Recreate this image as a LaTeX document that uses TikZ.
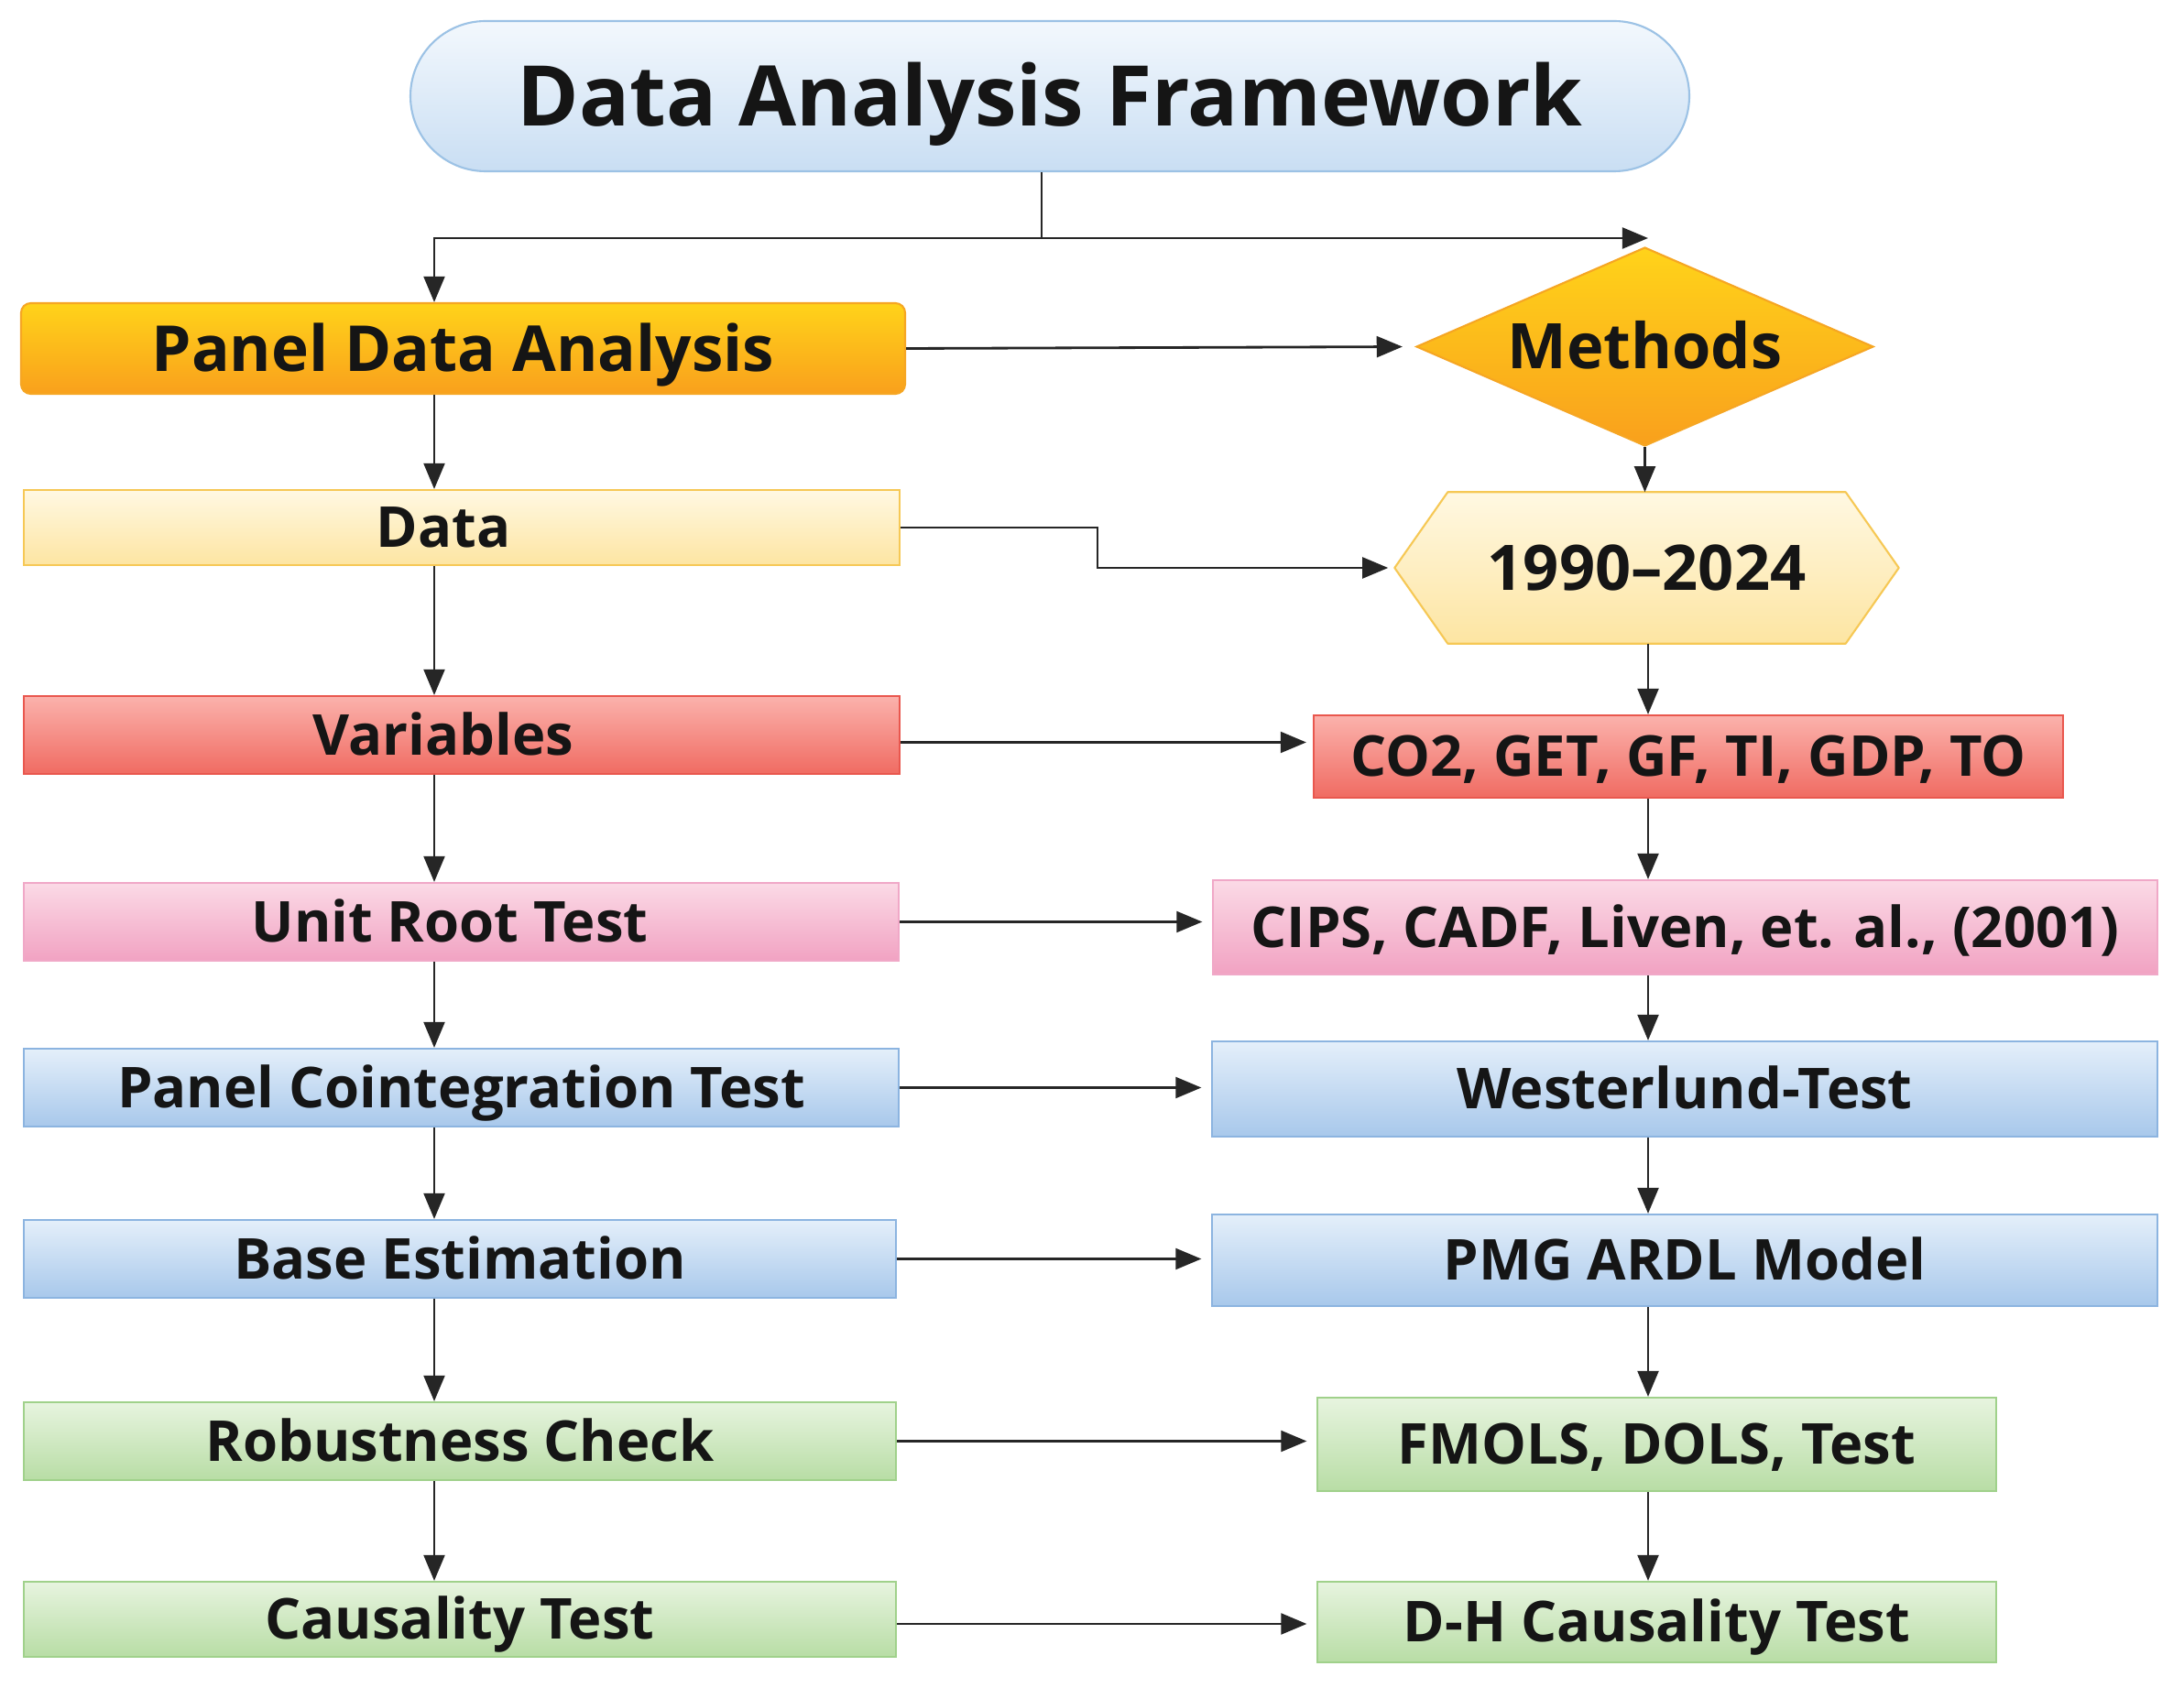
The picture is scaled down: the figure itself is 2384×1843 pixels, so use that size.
\documentclass[tikz,border=0pt]{standalone}
\usepackage{fontspec}
\setmainfont{Open Sans}
\usetikzlibrary{arrows.meta,shapes.geometric,calc}
\definecolor{ink}{HTML}{151515}
\definecolor{lnk}{HTML}{262626}
\definecolor{ttop}{HTML}{F3F8FD}\definecolor{tbot}{HTML}{C9DEF3}\definecolor{tbrd}{HTML}{9CC2E5}
\definecolor{otop}{HTML}{FFD31A}\definecolor{obot}{HTML}{F9A01C}\definecolor{obrd}{HTML}{F6A623}
\definecolor{ytop}{HTML}{FFF8E2}\definecolor{ybot}{HTML}{FDE5A2}\definecolor{ybrd}{HTML}{F6C855}
\definecolor{rtop}{HTML}{FBB2AC}\definecolor{rbot}{HTML}{F06B62}\definecolor{rbrd}{HTML}{E9574E}
\definecolor{ptop}{HTML}{FBDAE6}\definecolor{pbot}{HTML}{F1A2C2}\definecolor{pbrd}{HTML}{F0A8C7}
\definecolor{btop}{HTML}{E4EFFA}\definecolor{bbot}{HTML}{A8C8EB}\definecolor{bbrd}{HTML}{8CB4E0}
\definecolor{gtop}{HTML}{E7F4DF}\definecolor{gbot}{HTML}{B8DDA5}\definecolor{gbrd}{HTML}{A0D18B}
\tikzset{
  sz/.style 2 args={minimum width=#1*0.01cm, minimum height=#2*0.01cm},
  base/.style={rectangle, inner sep=0pt, line width=0.6pt, text=ink, text height=12.5pt, text depth=0pt, font=\bfseries\fontsize{17.5}{21}\selectfont},
  titlebox/.style={base, rounded corners=0.82cm, top color=ttop, bottom color=tbot, draw=tbrd, text height=18.6pt, font=\bfseries\fontsize{26}{30}\selectfont},
  orangebox/.style={base, rounded corners=3pt, top color=otop, bottom color=obot, draw=obrd, text height=14.1pt, font=\bfseries\fontsize{19.7}{24}\selectfont},
  yellowbox/.style={base, top color=ytop, bottom color=ybot, draw=ybrd},
  redbox/.style={base, top color=rtop, bottom color=rbot, draw=rbrd},
  pinkbox/.style={base, top color=ptop, bottom color=pbot, draw=pbrd},
  bluebox/.style={base, top color=btop, bottom color=bbot, draw=bbrd},
  greenbox/.style={base, top color=gtop, bottom color=gbot, draw=gbrd},
  arr/.style={draw=lnk, line width=0.8pt, -{Triangle[length=8pt,width=6.5pt]}},
  ln/.style={draw=lnk, line width=0.8pt},
}
\begin{document}
\begin{tikzpicture}[x=0.01cm,y=-0.01cm]
\useasboundingbox[fill=white] (0,0) rectangle (2384,1843);
% left column
\node[titlebox, sz={1396}{164}] (title) at (1146,105) {Data Analysis Framework};
\node[orangebox, sz={965}{99}] (pda) at (505.5,380.5) {Panel Data Analysis};
\node[yellowbox, sz={956}{82}] (data) at (504,576) {Data\kern0.4cm\relax};
\node[redbox, sz={956}{85}] (var) at (504,802.5) {Variables\kern0.4cm\relax};
\node[pinkbox, sz={955}{85}] (unit) at (503.5,1006.5) {Unit Root Test\kern0.25cm\relax};
\node[bluebox, sz={955}{85}] (coint) at (503.5,1187.5) {Panel Cointegration Test};
\node[bluebox, sz={952}{85}] (best) at (502,1374.5) {Base Estimation};
\node[greenbox, sz={952}{85}] (robust) at (502,1573.5) {Robustness Check};
\node[greenbox, sz={952}{82}] (caus) at (502,1768) {Causality Test};
% right column
\node[diamond, inner sep=0pt, aspect=2.3, sz={499}{217}, top color=otop, bottom color=obot, draw=obrd, line width=0.6pt, text=ink, text height=13.9pt, text depth=0pt, font=\bfseries\fontsize{19.5}{23}\selectfont] (meth) at (1795.5,378.5) {Methods};
\node[rectangle, inner sep=0pt, sz={549}{164}] (hex) at (1797.5,620) {};
\shade[top color=ytop, bottom color=ybot, draw=ybrd, line width=0.6pt, line join=round]
  (hex.west) -- ($(hex.north west)+(58,0)$) -- ($(hex.north east)+(-58,0)$) -- (hex.east)
  -- ($(hex.south east)+(-58,0)$) -- ($(hex.south west)+(58,0)$) -- cycle;
\node[inner sep=0pt, text=ink, text height=13.9pt, text depth=0pt, font=\bfseries\fontsize{19.5}{23}\selectfont] (hext) at (hex.center) {1990–2024};
\node[redbox, sz={818}{90}] (co2) at (1843,826) {CO2, GET, GF, TI, GDP, TO};
\node[pinkbox, sz={1031}{103}] (cips) at (1839.5,1012.5) {CIPS, CADF, Liven, et. al., (2001)};
\node[bluebox, sz={1032}{104}] (west) at (1839,1189) {Westerlund-Test};
\node[bluebox, sz={1032}{100}] (pmg) at (1839,1376) {PMG ARDL Model};
\node[greenbox, sz={741}{102}] (fmols) at (1808.5,1577) {FMOLS, DOLS, Test};
\node[greenbox, sz={741}{88}] (dh) at (1808.5,1771) {D-H Causality Test};
% helper coordinates
\coordinate (lx) at (474,0);
\coordinate (rx) at (1799,0);
\coordinate (j) at (1137,260);
\coordinate (va) at ($(var.east)+(0,8)$);
\coordinate (ca) at ($(caus.east)+(0,5)$);
% top connectors
\draw[ln] (title.south -| j) -- (j);
\draw[arr] (j) -| (pda.north -| lx);
\draw[arr] (j) -- (j -| rx);
% left vertical
\draw[arr] (pda.south -| lx) -- (data.north -| lx);
\draw[arr] (data.south -| lx) -- (var.north -| lx);
\draw[arr] (var.south -| lx) -- (unit.north -| lx);
\draw[arr] (unit.south -| lx) -- (coint.north -| lx);
\draw[arr] (coint.south -| lx) -- (best.north -| lx);
\draw[arr] (best.south -| lx) -- (robust.north -| lx);
\draw[arr] (robust.south -| lx) -- (caus.north -| lx);
% right vertical
\draw[arr] (meth.south) -- (hex.north -| meth.south);
\draw[arr] (hex.south -| rx) -- (co2.north -| rx);
\draw[arr] (co2.south -| rx) -- (cips.north -| rx);
\draw[arr] (cips.south -| rx) -- (west.north -| rx);
\draw[arr] (west.south -| rx) -- (pmg.north -| rx);
\draw[arr] (pmg.south -| rx) -- (fmols.north -| rx);
\draw[arr] (fmols.south -| rx) -- (dh.north -| rx);
% horizontal
\draw[arr, shorten >=4pt] (pda.east) -- (meth.west);
\draw[arr, shorten >=2pt] (data.east) -- ++(215,0) |- (hex.west);
\draw[arr, shorten >=2pt] (va) -- (va -| co2.west);
\draw[arr, shorten >=3pt] (unit.east) -- (unit.east -| cips.west);
\draw[arr, shorten >=3pt] (coint.east) -- (coint.east -| west.west);
\draw[arr, shorten >=3pt] (best.east) -- (best.east -| pmg.west);
\draw[arr, shorten >=3pt] (robust.east) -- (robust.east -| fmols.west);
\draw[arr, shorten >=3pt] (ca) -- (ca -| dh.west);
\end{tikzpicture}
\end{document}
